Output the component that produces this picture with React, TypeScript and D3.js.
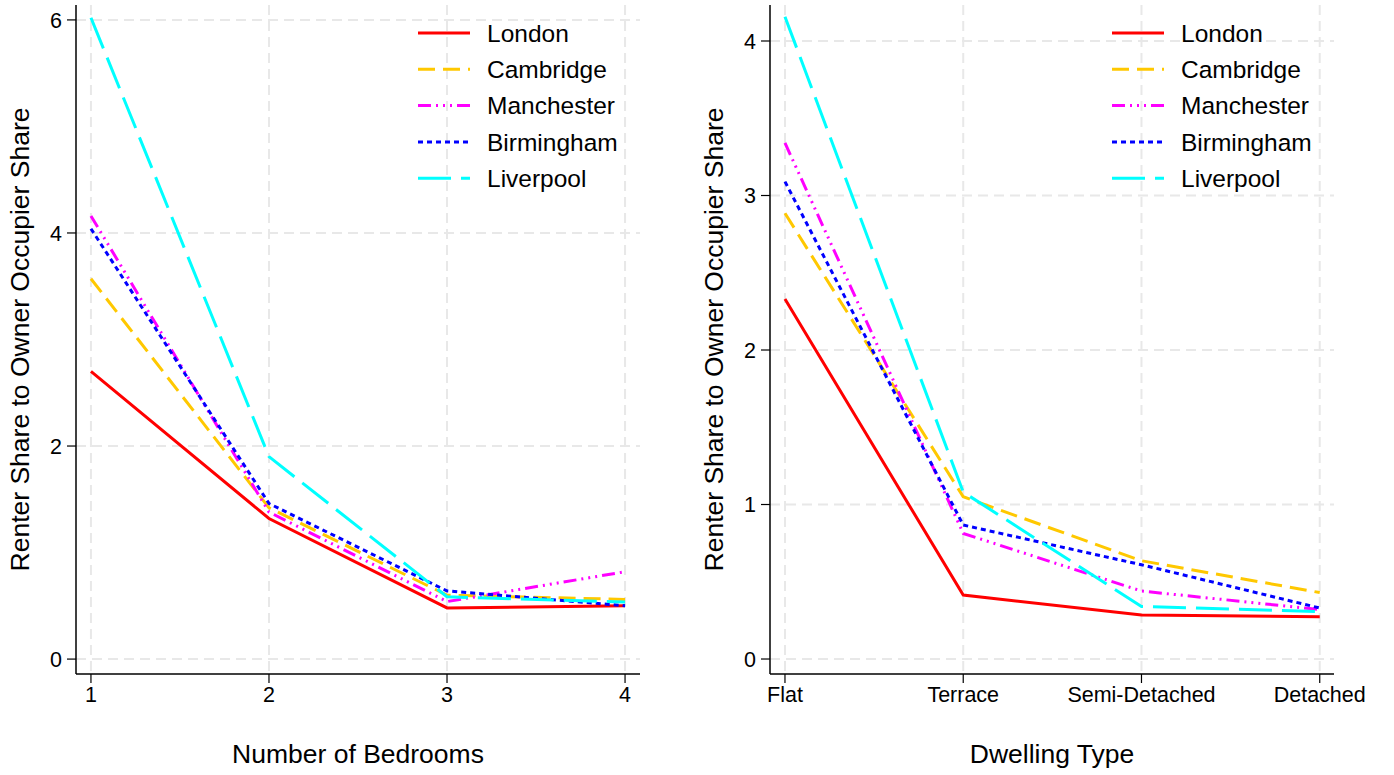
import React from "react";
import * as d3 from "d3";

const cities = ["London", "Cambridge", "Manchester", "Birmingham", "Liverpool"];
const colors = ["#ff0000", "#ffc800", "#ff00ff", "#0000ff", "#00ffff"];
const dashes = ["none", "17 8", "13 5 2 5 2 5 2 5", "5 4", "33 10"];

const bedrooms = [1, 2, 3, 4];
const bedLondon = [2.70, 1.32, 0.48, 0.50];
const bedCambridge = [3.57, 1.42, 0.60, 0.56];
const bedManchester = [4.16, 1.38, 0.54, 0.82];
const bedBirmingham = [4.04, 1.46, 0.64, 0.50];
const bedLiverpool = [6.02, 1.90, 0.585, 0.535];
const bedTicks = [0, 2, 4, 6];

const dwellTypes = ["Flat", "Terrace", "Semi-Detached", "Detached"];
const dwLondon = [2.33, 0.414, 0.285, 0.274];
const dwCambridge = [2.885, 1.05, 0.636, 0.43];
const dwManchester = [3.34, 0.813, 0.44, 0.32];
const dwBirmingham = [3.09, 0.867, 0.61, 0.33];
const dwLiverpool = [4.157, 1.08, 0.34, 0.306];
const dwTicks = [0, 1, 2, 3, 4];

const FONT = "Liberation Sans, Arial, sans-serif";

type PanelProps = {
  x0: number;
  x1: number;
  xDomain: [number, number];
  yDomain: [number, number];
  xLabels: string[];
  yTicks: number[];
  series: number[][];
  xTitle: string;
  legendX: number;
};

function Panel(p: PanelProps) {
  const top = 5;
  const bottom = 674;
  const x = d3.scaleLinear().domain(p.xDomain).range([p.x0, p.x1]);
  const y = d3.scaleLinear().domain(p.yDomain).range([bottom, top]);
  const idx = p.xLabels.map((_, i) => i);
  const line = d3
    .line<number>()
    .x((_, i) => x(i))
    .y((d) => y(d));
  const grid = "#e8e8e8";
  return (
    <g>
      {p.yTicks.map((t) => (
        <line key={"gy" + t} x1={p.x0} x2={p.x1} y1={y(t)} y2={y(t)} stroke={grid} strokeWidth={2} strokeDasharray="10 6" />
      ))}
      {idx.map((i) => (
        <line key={"gx" + i} x1={x(i)} x2={x(i)} y1={top} y2={bottom} stroke={grid} strokeWidth={2} strokeDasharray="10 6" />
      ))}
      {p.series.map((s, k) => (
        <path key={"s" + k} d={line(s) || ""} fill="none" stroke={colors[k]} strokeWidth={3} strokeDasharray={dashes[k]} />
      ))}
      <line x1={p.x0} x2={p.x0} y1={top} y2={bottom} stroke="#000" strokeWidth={1.5} />
      <line x1={p.x0} x2={p.x1} y1={bottom} y2={bottom} stroke="#000" strokeWidth={1.5} />
      {p.yTicks.map((t) => (
        <g key={"yt" + t}>
          <line x1={p.x0 - 9} x2={p.x0} y1={y(t)} y2={y(t)} stroke="#000" strokeWidth={1.2} />
          <text x={p.x0 - 14} y={y(t)} dy="0.36em" textAnchor="end" fontSize={21.5} fontFamily={FONT}>
            {t}
          </text>
        </g>
      ))}
      {idx.map((i) => (
        <g key={"xt" + i}>
          <line x1={x(i)} x2={x(i)} y1={bottom} y2={bottom + 9} stroke="#000" strokeWidth={1.2} />
          <text x={x(i)} y={bottom + 28} textAnchor="middle" fontSize={21.5} fontFamily={FONT}>
            {p.xLabels[i]}
          </text>
        </g>
      ))}
      <text
        transform={`translate(${p.x0 - 47},${(top + bottom) / 2}) rotate(-90)`}
        textAnchor="middle"
        fontSize={26.5}
        fontFamily={FONT}
      >
        Renter Share to Owner Occupier Share
      </text>
      <text x={(p.x0 + p.x1) / 2} y={763} textAnchor="middle" fontSize={26.5} fontFamily={FONT}>
        {p.xTitle}
      </text>
      {cities.map((c, k) => (
        <g key={"lg" + c}>
          <line x1={p.legendX} x2={p.legendX + 52} y1={33 + k * 36.3} y2={33 + k * 36.3} stroke={colors[k]} strokeWidth={3} strokeDasharray={dashes[k]} />
          <text x={p.legendX + 69} y={33 + k * 36.3} dy="0.36em" fontSize={24.5} fontFamily={FONT}>
            {c}
          </text>
        </g>
      ))}
    </g>
  );
}

export default function App() {
  const bedSeries = [bedLondon, bedCambridge, bedManchester, bedBirmingham, bedLiverpool];
  const dwSeries = [dwLondon, dwCambridge, dwManchester, dwBirmingham, dwLiverpool];
  return (
    <svg width={1394} height={775} style={{ position: "absolute", left: 0, top: 0, background: "#fff" }}>
      <rect width={1394} height={775} fill="#fff" />
      <Panel
        x0={76}
        x1={640}
        xDomain={[-0.084, 3.084]}
        yDomain={[-0.14, 6.14]}
        xLabels={bedrooms.map(String)}
        yTicks={bedTicks}
        series={bedSeries}
        xTitle="Number of Bedrooms"
        legendX={418}
      />
      <Panel
        x0={770}
        x1={1334}
        xDomain={[-0.084, 3.08]}
        yDomain={[-0.097, 4.233]}
        xLabels={dwellTypes}
        yTicks={dwTicks}
        series={dwSeries}
        xTitle="Dwelling Type"
        legendX={1112}
      />
    </svg>
  );
}
